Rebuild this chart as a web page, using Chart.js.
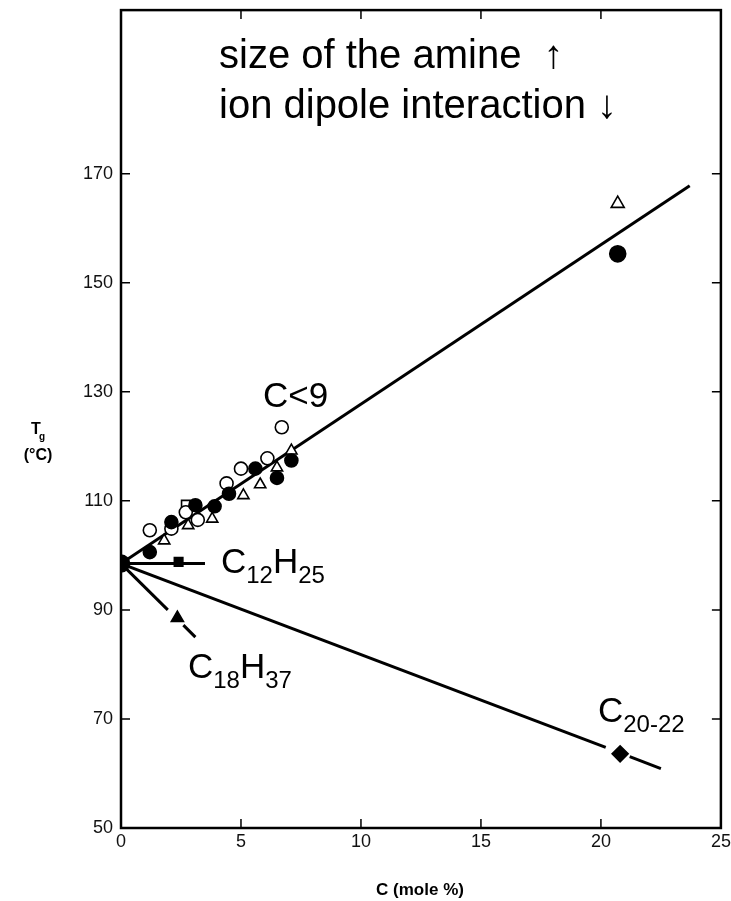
<!DOCTYPE html>
<html>
<head>
<meta charset="utf-8">
<script src="https://cdn.jsdelivr.net/npm/chart.js@4"></script>
<style>
  html, body { margin: 0; padding: 0; background: #fff; }
  #wrap { width: 731px; height: 901px; position: relative; }
</style>
</head>
<body>
<div id="wrap"><canvas id="tgChart"></canvas></div>
<script>
// axis ticks
const xTicks = [0, 5, 10, 15, 20, 25];
const yTicks = [50, 70, 90, 110, 130, 150, 170];

// open / filled symbols (C < 9 amines)
const filledCircleX = [1.2, 2.1, 3.1, 3.9, 4.5, 5.6, 6.5, 7.1];
const filledCircleY = [100.6, 106.1, 109.2, 109.0, 111.3, 115.9, 114.2, 117.4];
const openCircleX = [1.2, 2.1, 2.7, 3.2, 4.4, 5.0, 6.1, 6.7];
const openCircleY = [104.6, 104.9, 107.9, 106.5, 113.2, 115.9, 117.8, 123.5];
const openTriX = [1.8, 2.8, 3.8, 5.1, 5.8, 6.5, 7.1];
const openTriY = [102.7, 105.5, 106.7, 111.0, 113.0, 116.1, 119.2];
const openSquareX = [2.7];
const openSquareY = [109.3];
const farCircleX = [20.7];
const farCircleY = [155.3];
const farTriX = [20.7];
const farTriY = [164.5];

// long chain amines
const originX = [0];
const originY = [98.5];
const c12X = [2.4];
const c12Y = [98.8];
const c18X = [2.35];
const c18Y = [88.5];
const c20X = [20.8];
const c20Y = [63.6];

// fitted lines
const upperLineX = [0, 23.7];
const upperLineY = [98.5, 167.8];
const c12LineX = [0, 3.5];
const c12LineY = [98.5, 98.5];
const c18LineAX = [0, 1.95];
const c18LineAY = [98.5, 90.0];
const c18LineBX = [2.6, 3.1];
const c18LineBY = [87.2, 85.0];
const lowerLineAX = [0, 20.2];
const lowerLineAY = [98.5, 64.8];
const lowerLineBX = [21.2, 22.5];
const lowerLineBY = [63.1, 60.9];

const pts = (xs, ys) => xs.map((x, i) => ({ x, y: ys[i] }));

function markers(xs, ys, style, filled, r) {
  return {
    data: pts(xs, ys),
    pointStyle: style,
    pointRadius: r,
    backgroundColor: filled ? "#000" : "#fff",
    borderColor: "#000",
    borderWidth: 1.6,
    showLine: false,
    order: 0,
  };
}

function line(xs, ys) {
  return {
    data: pts(xs, ys),
    showLine: true,
    pointRadius: 0,
    borderColor: "#000",
    borderWidth: 3,
    order: 10,
  };
}

const BASE_FONT = "'Liberation Sans', Arial, Helvetica, sans-serif";

// frame, inward ticks and text annotations
const framePlugin = {
  id: "frame",
  afterDatasetsDraw(chart) {
    const { ctx, chartArea: a, scales } = chart;
    ctx.save();
    ctx.strokeStyle = "#000";
    ctx.lineWidth = 2.5;
    ctx.strokeRect(a.left, a.top, a.right - a.left, a.bottom - a.top);

    ctx.lineWidth = 1.5;
    ctx.beginPath();
    xTicks.forEach(v => {
      const px = scales.x.getPixelForValue(v);
      ctx.moveTo(px, a.bottom); ctx.lineTo(px, a.bottom - 9);
      ctx.moveTo(px, a.top); ctx.lineTo(px, a.top + 9);
    });
    yTicks.forEach(v => {
      const py = scales.y.getPixelForValue(v);
      ctx.moveTo(a.left, py); ctx.lineTo(a.left + 9, py);
      ctx.moveTo(a.right, py); ctx.lineTo(a.right - 9, py);
    });
    ctx.stroke();

    ctx.fillStyle = "#000";
    ctx.textBaseline = "alphabetic";
    ctx.textAlign = "left";

    ctx.font = "40px " + BASE_FONT;
    ctx.fillText("size of the amine  \u2191", 219, 68);
    ctx.fillText("ion dipole interaction \u2193", 219, 118);

    ctx.font = "35px " + BASE_FONT;
    ctx.fillText("C<9", 263, 407);

    const chem = (parts, x, y) => {
      parts.forEach(([txt, sub]) => {
        ctx.font = (sub ? "24px " : "35px ") + BASE_FONT;
        ctx.fillText(txt, x, sub ? y + 10 : y);
        x += ctx.measureText(txt).width;
      });
    };
    chem([["C", 0], ["12", 1], ["H", 0], ["25", 1]], 221, 573);
    chem([["C", 0], ["18", 1], ["H", 0], ["37", 1]], 188, 678);
    chem([["C", 0], ["20-22", 1]], 598, 722);

    // axis titles
    ctx.textAlign = "center";
    ctx.font = "bold 17px " + BASE_FONT;
    ctx.fillText("C (mole %)", 420, 895);
    ctx.font = "bold 16px " + BASE_FONT;
    ctx.fillText("T", 36, 434);
    ctx.font = "bold 10px " + BASE_FONT;
    ctx.fillText("g", 42, 440);
    ctx.font = "bold 16px " + BASE_FONT;
    ctx.fillText("(\u00b0C)", 38, 460);
    ctx.restore();
  },
};

const ctx = document.getElementById("tgChart").getContext("2d");
new Chart(ctx, {
  type: "scatter",
  data: {
    datasets: [
      markers(originX, originY, "circle", true, 8.5),
      markers(c12X, c12Y, "rect", true, 6),
      markers(c18X, c18Y, "triangle", true, 7),
      markers(c20X, c20Y, "rectRot", true, 8),
      markers(filledCircleX, filledCircleY, "circle", true, 6.5),
      markers(openCircleX, openCircleY, "circle", false, 6.5),
      markers(openTriX, openTriY, "triangle", false, 6.5),
      markers(openSquareX, openSquareY, "rect", false, 6),
      markers(farCircleX, farCircleY, "circle", true, 8),
      markers(farTriX, farTriY, "triangle", false, 7.5),
      line(upperLineX, upperLineY),
      line(c12LineX, c12LineY),
      line(c18LineAX, c18LineAY),
      line(c18LineBX, c18LineBY),
      line(lowerLineAX, lowerLineAY),
      line(lowerLineBX, lowerLineBY),
    ],
  },
  options: {
    responsive: true,
    maintainAspectRatio: false,
    animation: false,
    layout: { padding: { top: 7, right: 10, left: 0, bottom: 0 } },
    plugins: {
      legend: { display: false },
      tooltip: { enabled: false },
    },
    scales: {
      x: {
        type: "linear",
        min: 0,
        max: 25,
        afterBuildTicks: (s) => { s.ticks = xTicks.map(v => ({ value: v })); },
        afterFit: (s) => {
          s.height = 73;
          s.paddingLeft = 0;
          s.paddingRight = 0;
        },
        grid: { display: false, drawTicks: false },
        border: { display: false },
        ticks: {
          padding: 3,
          color: "#111",
          font: { family: BASE_FONT, size: 18 },
        },
      },
      y: {
        type: "linear",
        min: 50,
        max: 200,
        afterBuildTicks: (s) => { s.ticks = yTicks.map(v => ({ value: v })); },
        afterFit: (s) => {
          s.width = 121;
          s.paddingTop = 0;
          s.paddingBottom = 0;
        },
        grid: { display: false, drawTicks: false },
        border: { display: false },
        ticks: {
          padding: 8,
          color: "#111",
          font: { family: BASE_FONT, size: 18 },
        },
      },
    },
  },
  plugins: [framePlugin],
});
</script>
</body>
</html>
